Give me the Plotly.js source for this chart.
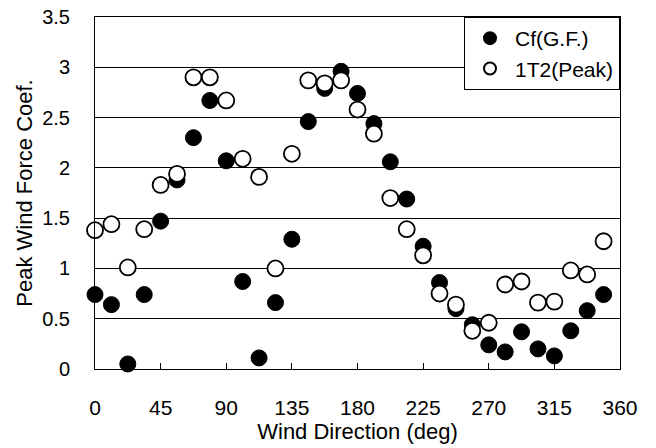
<!DOCTYPE html>
<html>
<head>
<meta charset="utf-8">
<script src="https://cdn.plot.ly/plotly-3.0.1.min.js"></script>
<style>html,body{margin:0;padding:0;background:#fff;}#chart{width:656px;height:448px;}</style>
</head>
<body>
<div id="chart"></div>
<script>
const directions = [0, 11.25, 22.5, 33.75, 45, 56.25, 67.5, 78.75, 90, 101.25, 112.5, 123.75, 135, 146.25, 157.5, 168.75,
  180, 191.25, 202.5, 213.75, 225, 236.25, 247.5, 258.75, 270, 281.25, 292.5, 303.75, 315, 326.25, 337.5, 348.75];
const cfGF = [0.74, 0.64, 0.05, 0.74, 1.47, 1.88, 2.30, 2.67, 2.07, 0.87, 0.11, 0.66, 1.29, 2.46, 2.79, 2.96,
  2.74, 2.44, 2.06, 1.69, 1.22, 0.86, 0.60, 0.44, 0.24, 0.17, 0.37, 0.20, 0.13, 0.38, 0.58, 0.74];
const peak1T2 = [1.38, 1.44, 1.01, 1.39, 1.83, 1.94, 2.90, 2.90, 2.67, 2.09, 1.91, 1.00, 2.14, 2.87, 2.84, 2.87,
  2.58, 2.34, 1.70, 1.39, 1.13, 0.75, 0.64, 0.38, 0.46, 0.84, 0.87, 0.66, 0.67, 0.98, 0.94, 1.27];
const xTicks = [0, 45, 90, 135, 180, 225, 270, 315, 360];
const yTicks = [0, 0.5, 1, 1.5, 2, 2.5, 3, 3.5];
const yTickText = ['0', '0.5', '1', '1.5', '2', '2.5', '3', '3.5'];

const fam = 'Liberation Sans, Arial, sans-serif';
const tickFontX = {family: fam, size: 21, color: '#000'};
const tickFontY = {family: fam, size: 20, color: '#000'};
const titleFont = {family: fam, size: 22, color: '#000'};
const legendFont = {family: fam, size: 21, color: '#000'};

const traces = [
  {x: directions, y: cfGF, name: 'Cf(G.F.)', type: 'scatter', mode: 'markers',
   marker: {symbol: 'circle', size: 16, color: '#000', line: {color: '#000', width: 1}}, cliponaxis: false},
  {x: directions, y: peak1T2, name: '1T2(Peak)', type: 'scatter', mode: 'markers',
   marker: {symbol: 'circle', size: 16, color: '#fff', line: {color: '#000', width: 1.8}}, cliponaxis: false}
];

const layout = {
  width: 656, height: 448,
  margin: {l: 95, r: 36, t: 17, b: 79},
  paper_bgcolor: '#fff', plot_bgcolor: '#fff',
  font: legendFont,
  showlegend: true,
  legend: {x: 1, xanchor: 'right', y: 1, yanchor: 'top', xref: 'paper', yref: 'paper',
    bgcolor: '#fff', bordercolor: '#000', borderwidth: 1, font: legendFont, itemsizing: 'constant',
    itemwidth: 40, tracegroupgap: 0},
  xaxis: {
    range: [0, 360], tickvals: xTicks, ticktext: xTicks.map(String),
    ticks: 'inside', ticklen: 6, tickcolor: '#000', tickwidth: 1,
    showline: true, linecolor: '#000', linewidth: 1, mirror: true,
    showgrid: false, zeroline: false,
    ticklabelstandoff: 20,
    tickfont: tickFontX,
    title: {text: 'Wind Direction (deg)', font: titleFont, standoff: 1}
  },
  yaxis: {
    range: [0, 3.5], tickvals: yTicks, ticktext: yTickText,
    ticks: '', showline: true, linecolor: '#000', linewidth: 1, mirror: true,
    showgrid: true, gridcolor: '#000', gridwidth: 1, zeroline: false,
    ticklabelstandoff: 20,
    tickfont: tickFontY,
    title: {text: 'Peak Wind Force Coef.', font: titleFont, standoff: 3}
  }
};

Plotly.newPlot('chart', traces, layout, {displayModeBar: false, staticPlot: true});
</script>
</body>
</html>
